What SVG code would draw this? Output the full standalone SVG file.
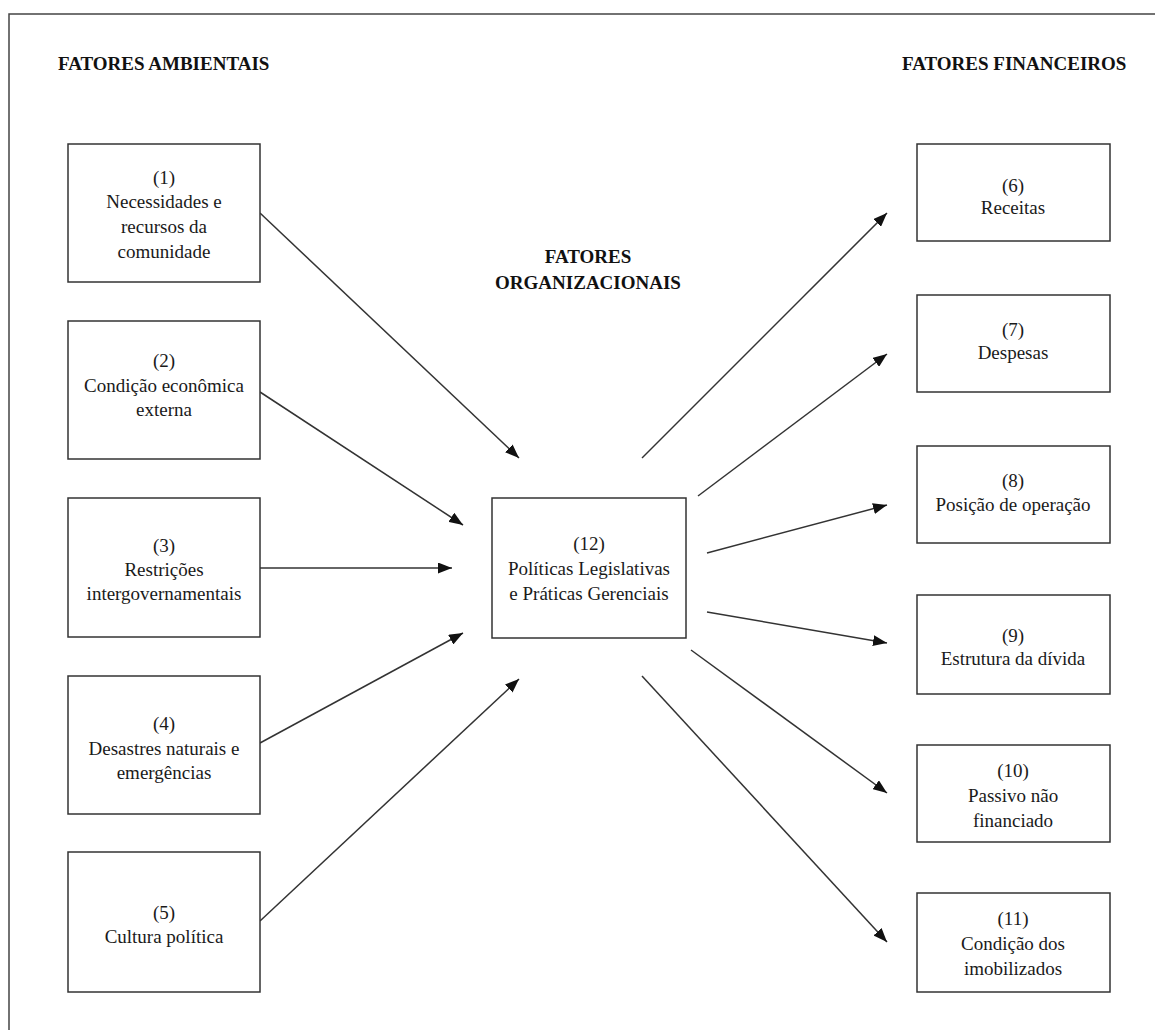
<svg xmlns="http://www.w3.org/2000/svg" width="1155" height="1030" viewBox="0 0 1155 1030">
<style>
.box{fill:#fff;stroke:#333;stroke-width:1.5}
.t{font-family:"Liberation Serif","Times New Roman",serif;font-size:19px;fill:#1a1a1a;text-anchor:middle}
.h{font-family:"Liberation Serif","Times New Roman",serif;font-size:19px;font-weight:bold;fill:#111}
.c line{stroke:#333;stroke-width:1.5}
</style>
<defs>
<marker id="ah" viewBox="0 0 14 11" refX="14" refY="5.5" markerWidth="14" markerHeight="11" markerUnits="userSpaceOnUse" orient="auto">
<path d="M0,0 L14,5.5 L0,11 Z" fill="#111"/>
</marker>
</defs>
<rect x="0" y="0" width="1155" height="1030" fill="#fff"/>
<rect x="9" y="14" width="1170" height="1040" fill="none" stroke="#444" stroke-width="1.5"/>
<text class="h" x="58" y="70">FATORES AMBIENTAIS</text>
<text class="h" x="902" y="70">FATORES FINANCEIROS</text>
<text class="h" x="588" y="263" text-anchor="middle">FATORES</text>
<text class="h" x="588" y="289" text-anchor="middle">ORGANIZACIONAIS</text>
<g class="c">
<line x1="260" y1="213" x2="519" y2="458" marker-end="url(#ah)"/>
<line x1="260" y1="392" x2="463" y2="525" marker-end="url(#ah)"/>
<line x1="260" y1="568" x2="452" y2="568" marker-end="url(#ah)"/>
<line x1="260" y1="743" x2="463" y2="633" marker-end="url(#ah)"/>
<line x1="260" y1="921" x2="519" y2="679" marker-end="url(#ah)"/>
<line x1="642" y1="458" x2="887" y2="213" marker-end="url(#ah)"/>
<line x1="698" y1="496" x2="887" y2="354" marker-end="url(#ah)"/>
<line x1="707" y1="553" x2="887" y2="505" marker-end="url(#ah)"/>
<line x1="707" y1="612" x2="887" y2="643" marker-end="url(#ah)"/>
<line x1="691" y1="650" x2="887" y2="793" marker-end="url(#ah)"/>
<line x1="642" y1="676" x2="887" y2="942" marker-end="url(#ah)"/>
</g>
<g id="n1"><rect class="box" x="68" y="144" width="192" height="138"/>
<text class="t" x="164" y="184">(1)</text><text class="t" x="164" y="208">Necessidades e</text><text class="t" x="164" y="233">recursos da</text><text class="t" x="164" y="258">comunidade</text></g>
<g id="n2"><rect class="box" x="68" y="321" width="192" height="138"/>
<text class="t" x="164" y="367">(2)</text><text class="t" x="164" y="392">Condição econômica</text><text class="t" x="164" y="416">externa</text></g>
<g id="n3"><rect class="box" x="68" y="498" width="192" height="139"/>
<text class="t" x="164" y="552">(3)</text><text class="t" x="164" y="576">Restrições</text><text class="t" x="164" y="600">intergovernamentais</text></g>
<g id="n4"><rect class="box" x="68" y="676" width="192" height="138"/>
<text class="t" x="164" y="730">(4)</text><text class="t" x="164" y="755">Desastres naturais e</text><text class="t" x="164" y="779">emergências</text></g>
<g id="n5"><rect class="box" x="68" y="852" width="192" height="140"/>
<text class="t" x="164" y="919">(5)</text><text class="t" x="164" y="943">Cultura política</text></g>
<g id="n12"><rect class="box" x="492" y="498" width="194" height="140"/>
<text class="t" x="589" y="550">(12)</text><text class="t" x="589" y="575">Políticas Legislativas</text><text class="t" x="589" y="600">e Práticas Gerenciais</text></g>
<g id="n6"><rect class="box" x="917" y="144" width="193" height="97"/>
<text class="t" x="1013" y="192">(6)</text><text class="t" x="1013" y="214">Receitas</text></g>
<g id="n7"><rect class="box" x="917" y="295" width="193" height="97"/>
<text class="t" x="1013" y="336">(7)</text><text class="t" x="1013" y="359">Despesas</text></g>
<g id="n8"><rect class="box" x="917" y="446" width="193" height="97"/>
<text class="t" x="1013" y="487">(8)</text><text class="t" x="1013" y="511">Posição de operação</text></g>
<g id="n9"><rect class="box" x="917" y="595" width="193" height="99"/>
<text class="t" x="1013" y="642">(9)</text><text class="t" x="1013" y="665">Estrutura da dívida</text></g>
<g id="n10"><rect class="box" x="917" y="745" width="193" height="97"/>
<text class="t" x="1013" y="777">(10)</text><text class="t" x="1013" y="802">Passivo não</text><text class="t" x="1013" y="827">financiado</text></g>
<g id="n11"><rect class="box" x="917" y="893" width="193" height="99"/>
<text class="t" x="1013" y="925">(11)</text><text class="t" x="1013" y="950">Condição dos</text><text class="t" x="1013" y="975">imobilizados</text></g>
</svg>
